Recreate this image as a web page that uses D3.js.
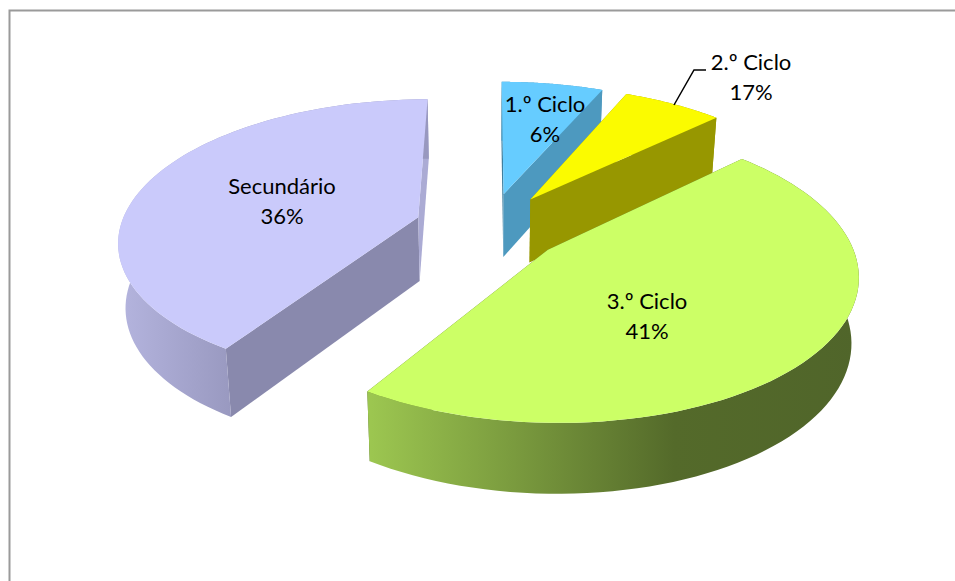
<!DOCTYPE html>
<html><head><meta charset="utf-8">
<style>html,body{margin:0;padding:0;background:#fff;overflow:hidden}svg{display:block}</style>
<script src="https://cdn.jsdelivr.net/npm/d3@7"></script></head>
<body><svg id="c" width="955" height="581"></svg>
<script>
// Data
const categories = ["1.º Ciclo", "2.º Ciclo", "3.º Ciclo", "Secundário"];
const labelPercents = [6, 17, 41, 36];        // the percentages printed on the chart
const drawnShares = [6.5, 6.4, 46.15, 40.95]; // the slice sizes as actually drawn (they differ from the printed labels)

// Styles
const topColors = ["#66CCFF", "#FBFB00", "#CCFF66", "#CACAFB"];
const startCutColors = ["#3F7F9F", "#979700", "#54692A", "#8989AD"];
const endCutColors = ["#4D99BF", "#979700", "#54692A", "#ABABD4"];
const wallStops = [
  [["0", "#4D99BF"], ["1", "#4D99BF"]],
  [["0", "#979700"], ["1", "#979700"]],
  [["0", "#9CC650"], ["0.62", "#546A2A"], ["1", "#50652A"]],
  [["0", "#B4B4DE"], ["1", "#9898BF"]]
];
const wallRange = [[500, 610], [620, 720], [371, 860], [120, 235]];
const paintOrder = [0, 1, 3, 2];

// Projection of the tilted pie
const vx = 489, A = 298, k = 0.1535, explode = 0.25;
const top_ = {yh: -678, C: 905, xs: 1};
const bot_ = {yh: -646, C: 937, xs: 0.98};
function project(gx, gy, p) {
  const s = 1 / (1 - k * gy);
  return [vx + p.xs * A * gx * s, p.yh + p.C * s];
}

const svg = d3.select("#c");
const defs = svg.append("defs");
svg.append("path").attr("d", "M9.5,581V10.5H955").attr("fill", "none").attr("stroke", "#9a9a9a").attr("stroke-width", 2);

const pie = d3.pie().sort(null).value(d => d);
const arcs = pie(drawnShares);
const line = d3.line();

paintOrder.forEach(i => {
  const a = arcs[i];
  const mid = (a.startAngle + a.endAngle) / 2;
  const ox = explode * Math.sin(mid), oy = -explode * Math.cos(mid);
  const pt = (r, t, p) => project(ox + r * Math.sin(t), oy - r * Math.cos(t), p);
  const n = 80;
  const ts = d3.range(n + 1).map(j => a.startAngle + (a.endAngle - a.startAngle) * j / n);
  const g = svg.append("g");

  const grad = defs.append("linearGradient").attr("id", "w" + i)
    .attr("gradientUnits", "userSpaceOnUse")
    .attr("x1", wallRange[i][0]).attr("x2", wallRange[i][1]).attr("y1", 0).attr("y2", 0);
  wallStops[i].forEach(s => grad.append("stop").attr("offset", s[0]).attr("stop-color", s[1]));

  // cut faces (back-facing ones end up hidden by the wall and the top face)
  const cut = (t, col) => g.append("path").attr("d", line([
    pt(0, t, top_), pt(1, t, top_), pt(1, t, bot_), pt(0, t, bot_)]) + "Z").attr("fill", col);
  cut(a.startAngle, startCutColors[i]);
  cut(a.endAngle, endCutColors[i]);
  // outer wall
  const wall = ts.map(t => pt(1, t, top_)).concat(ts.slice().reverse().map(t => pt(1, t, bot_)));
  g.append("path").attr("d", line(wall) + "Z").attr("fill", `url(#w${i})`);
  // top face
  const face = [pt(0, 0, top_)].concat(ts.map(t => pt(1, t, top_)));
  g.append("path").attr("d", line(face) + "Z").attr("fill", topColors[i]);
});

// Leader line
svg.append("path").attr("d", "M674,105L694,70H706").attr("fill", "none").attr("stroke", "#000").attr("stroke-width", 1.5);

// Labels
const labelLayout = [[545, 112], [751, 70], [647, 309], [282, 194]];
categories.forEach((c, i) => {
  const t = svg.append("text").attr("text-anchor", "middle")
    .attr("font-family", "Lato, 'Open Sans', sans-serif").attr("font-size", 22).attr("fill", "#000")
    .attr("transform", `translate(${labelLayout[i][0]},${labelLayout[i][1]})`);
  t.append("tspan").attr("x", 0).attr("y", 0).text(c);
  t.append("tspan").attr("x", 0).attr("y", 29.5).text(labelPercents[i] + "%");
});
</script></body></html>
